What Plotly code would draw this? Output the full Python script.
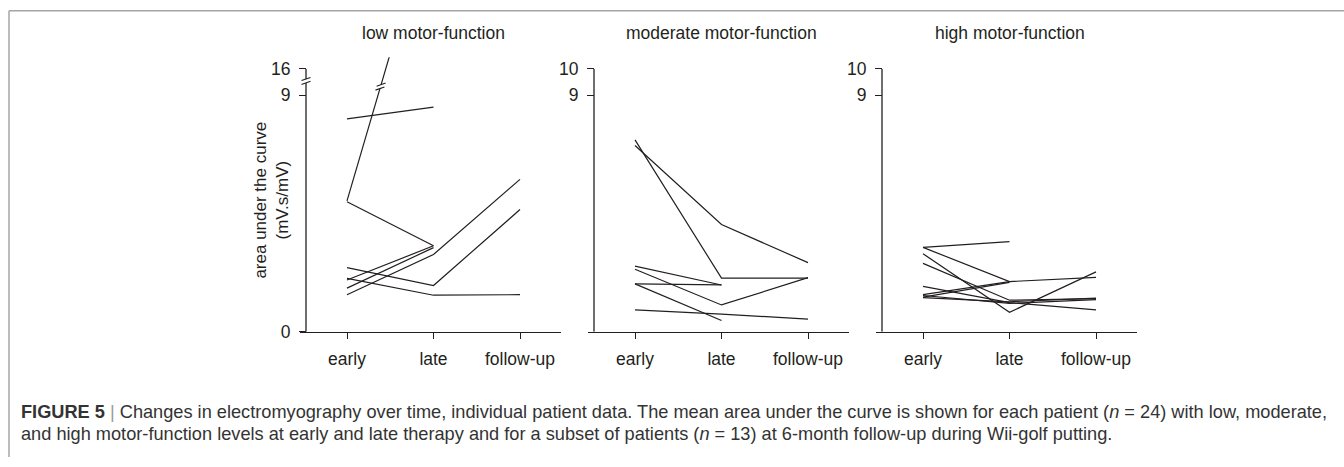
import plotly.graph_objects as go

# ---------------- data ----------------
categories = ["early", "late", "follow-up"]
panel_titles = ["low motor-function", "moderate motor-function", "high motor-function"]

low_early = [8.10, 4.98, 4.95, 2.44, 2.03, 1.97, 1.66, 1.41]
low_late = [8.55, 22.2, 3.27, 1.76, 1.39, 3.27, 3.20, 2.94]
low_fu = [None, None, None, 4.65, 1.41, None, None, 5.80]

mod_early = [7.30, 7.09, 2.50, 2.38, 1.82, 1.82, 0.83]
mod_late = [2.04, 4.08, 1.78, 1.02, 1.78, 0.43, 0.67]
mod_fu = [2.04, 2.63, None, 2.06, None, None, 0.48]

high_early = [3.21, 3.21, 2.97, 2.60, 1.73, 1.41, 1.32, 1.38, 1.30]
high_late = [3.43, 1.91, 0.74, 1.20, 1.11, 1.91, 1.88, 1.08, 1.14]
high_fu = [None, 2.07, 2.28, 1.26, 0.83, None, None, 1.22, 1.28]

low_ticks = [0, 9, 16]
other_ticks = [9, 10]

caption1 = ("<b>FIGURE 5</b> <span style='color:#9a9a9a'>|</span> Changes in electromyography over time, "
            "individual patient data. The mean area under the curve is shown for each patient "
            "(<i>n</i> = 24) with low, moderate,")
caption2 = ("and high motor-function levels at early and late therapy and for a subset of patients "
            "(<i>n</i> = 13) at 6-month follow-up during Wii-golf putting.")


def broken(v):
    """broken y scale of the first panel: 0-9 linear, 9-16 compressed into one unit."""
    if v is None:
        return None
    if v <= 9:
        return v
    if v <= 16:
        return 9 + (v - 9) / 7.0
    return 10 + (v - 16)


# ---------------- geometry ----------------
W, H = 1344, 467
FONT = "Liberation Sans, Arial, Helvetica, sans-serif"
INK = "#231f20"
unit_x = 86.5
xr = [-47 / unit_x, 2 + 41 / unit_x]
panel_w = (xr[1] - xr[0]) * unit_x
y_bot_px = 339.0
unit_y = 26.85
ytop = 10.45
ydom = [1 - y_bot_px / H, 1 - (y_bot_px - ytop * unit_y) / H]
y_axis_x = xr[0] + 6 / unit_x

panels = [
    (low_early, low_late, low_fu, True),
    (mod_early, mod_late, mod_fu, False),
    (high_early, high_late, high_fu, False),
]

fig = go.Figure()
shapes = []
annotations = []
layout = {}

for i, (e, l, f, is_broken) in enumerate(panels):
    n = "" if i == 0 else str(i + 1)
    left = 300 + 288 * i
    tf = broken if is_broken else (lambda v: v)
    for a, b, c in zip(e, l, f):
        fig.add_trace(go.Scatter(
            x=[0, 1, 2], y=[tf(a), tf(b), tf(c)],
            mode="lines", line=dict(color=INK, width=1.2),
            xaxis="x" + n, yaxis="y" + n, showlegend=False, hoverinfo="skip",
        ))
    if is_broken:
        tickvals = [broken(v) for v in low_ticks]
        ticktext = [str(v) for v in low_ticks]
    else:
        tickvals = other_ticks
        ticktext = [str(v) for v in other_ticks]
    layout["xaxis" + n] = dict(
        domain=[left / W, (left + panel_w) / W], range=xr, anchor="y" + n,
        showline=True, linecolor=INK, linewidth=1.3, ticks="outside", ticklen=6,
        tickwidth=1.2, tickcolor=INK, tickvals=[0, 1, 2], ticktext=categories,
        ticklabelstandoff=5,
        showgrid=False, zeroline=False, fixedrange=True,
        tickfont=dict(family=FONT, size=17.5, color=INK),
    )
    layout["yaxis" + n] = dict(
        domain=ydom, range=[0, ytop], anchor="free", position=(left + 6) / W,
        showline=False, ticks="outside", ticklen=7, tickwidth=1.2, tickcolor=INK,
        tickvals=tickvals, ticktext=ticktext, showgrid=False, zeroline=False,
        ticklabelstandoff=5,
        fixedrange=True, tickfont=dict(family=FONT, size=17.5, color=INK),
    )
    # y axis line (with a break in the first panel)
    xa, ya = "x" + n, "y" + n
    if is_broken:
        gap_lo, gap_hi = 9.47, 9.62
        shapes.append(dict(type="line", xref=xa, yref=ya, x0=y_axis_x, x1=y_axis_x,
                           y0=0, y1=gap_lo, line=dict(color=INK, width=1.3)))
        shapes.append(dict(type="line", xref=xa, yref=ya, x0=y_axis_x, x1=y_axis_x,
                           y0=gap_hi, y1=10, line=dict(color=INK, width=1.3)))
        dx, dy = 4.5 / unit_x, 1.6 / unit_y
        for yc in (gap_lo, gap_hi):
            shapes.append(dict(type="line", xref=xa, yref=ya, x0=y_axis_x - dx, x1=y_axis_x + dx,
                               y0=yc - dy, y1=yc + dy, line=dict(color=INK, width=1.1)))
        # break mark on the off-scale data line
        for a, b in zip(e, l):
            if b is not None and b > 16:
                y0d, y1d = broken(a), broken(b)
                yc = 9.33
                t = (yc - y0d) / (y1d - y0d)
                slope = (y1d - y0d)  # display units per x unit
                h = 2.0 / unit_y
                shapes.append(dict(type="line", xref=xa, yref=ya,
                                   x0=t - h / slope, x1=t + h / slope, y0=yc - h, y1=yc + h,
                                   line=dict(color="white", width=4)))
                for s in (-1, 1):
                    cy = yc + s * h
                    cx = t + s * h / slope
                    shapes.append(dict(type="line", xref=xa, yref=ya,
                                       x0=cx - 4.5 / unit_x, x1=cx + 4.5 / unit_x,
                                       y0=cy - 1.6 / unit_y, y1=cy + 1.6 / unit_y,
                                       line=dict(color=INK, width=1.1)))
    else:
        shapes.append(dict(type="line", xref=xa, yref=ya, x0=y_axis_x, x1=y_axis_x,
                           y0=0, y1=10, line=dict(color=INK, width=1.3)))
    annotations.append(dict(text=panel_titles[i], xref=xa, x=1, yref="paper", y=1 - 34 / H,
                            xanchor="center", yanchor="middle", showarrow=False,
                            font=dict(family=FONT, size=17.5, color=INK)))

annotations.append(dict(text="area under the curve<br>(mV.s/mV)", textangle=-90,
                        xref="paper", x=272 / W, yref="paper", y=1 - 205 / H,
                        xanchor="center", yanchor="middle", showarrow=False,
                        font=dict(family=FONT, size=17, color=INK)))
annotations.append(dict(text=caption1, xref="paper", x=19 / W, yref="paper", y=1 - 421 / H,
                        xanchor="left", yanchor="middle", showarrow=False, align="left",
                        font=dict(family=FONT, size=18.2, color="#333333")))
annotations.append(dict(text=caption2, xref="paper", x=19 / W, yref="paper", y=1 - 444 / H,
                        xanchor="left", yanchor="middle", showarrow=False, align="left",
                        font=dict(family=FONT, size=18.2, color="#333333")))

# figure frame (top and left rules)
frame_col = "#a6a6a6"
shapes.append(dict(type="line", xref="paper", yref="paper", x0=9 / W, x1=1,
                   y0=1 - 11 / H, y1=1 - 11 / H, line=dict(color=frame_col, width=1.5)))
shapes.append(dict(type="line", xref="paper", yref="paper", x0=9 / W, x1=9 / W,
                   y0=0, y1=1 - 11 / H, line=dict(color=frame_col, width=1.5)))

fig.update_layout(
    width=W, height=H, margin=dict(l=0, r=0, t=0, b=0),
    paper_bgcolor="white", plot_bgcolor="white",
    shapes=shapes, annotations=annotations, showlegend=False,
    **layout,
)

fig.write_html("out.html", config={"displayModeBar": False})
